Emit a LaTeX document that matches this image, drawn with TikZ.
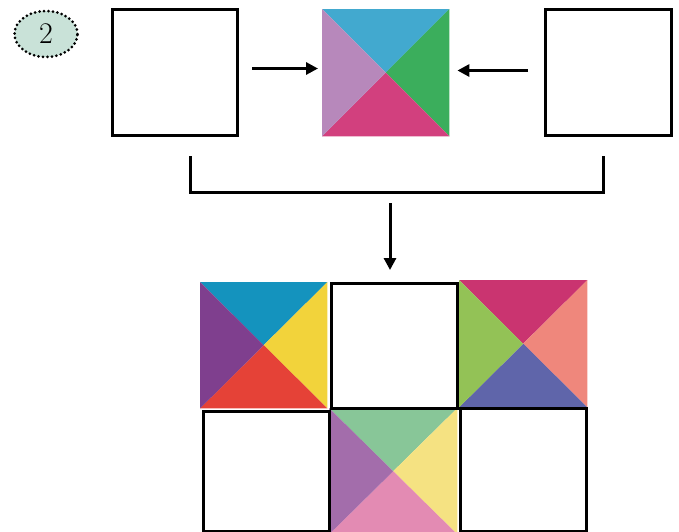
\documentclass[tikz,border=0pt]{standalone}
\usepackage{fontspec}
\usetikzlibrary{shapes.geometric,arrows.meta}
\definecolor{badge}{HTML}{C9E2D8}
\definecolor{mT}{HTML}{42A9CF}
\definecolor{mR}{HTML}{3BAE5C}
\definecolor{mB}{HTML}{D2407E}
\definecolor{mL}{HTML}{B788BB}
\definecolor{aT}{HTML}{1493BE}
\definecolor{aR}{HTML}{F2D33B}
\definecolor{aB}{HTML}{E54237}
\definecolor{aL}{HTML}{7F3F8E}
\definecolor{cT}{HTML}{CA3470}
\definecolor{cR}{HTML}{EF877C}
\definecolor{cB}{HTML}{5F65AA}
\definecolor{cL}{HTML}{93C256}
\definecolor{eT}{HTML}{88C698}
\definecolor{eR}{HTML}{F5E282}
\definecolor{eB}{HTML}{E38BB3}
\definecolor{eL}{HTML}{A36DAB}
\begin{document}
\begin{tikzpicture}[x=1pt,y=-1pt,
  wbox/.style={draw=black, line width=3pt, fill=white, inner sep=0pt, anchor=north west},
  cbox/.style={inner sep=0pt, anchor=north west},
  arr/.style={line width=3pt, -{Triangle[length=12pt,width=12pt]}},
  brk/.style={line width=3pt}]
\useasboundingbox (0,0) rectangle (679,531);
\clip (0,0) rectangle (679,531);
% badge
\node[ellipse, draw=black, line width=3pt, dash pattern=on 0pt off 4.5pt, line cap=round, fill=badge, minimum width=63pt, minimum height=46pt, inner sep=0pt, font=\fontsize{30}{30}\selectfont]
  (badge) at (46,34) {2};
% top row
\node[wbox, minimum width=125pt, minimum height=126pt] (L) at (111,8) {};
\node[wbox, minimum width=126pt, minimum height=126pt] (R) at (544,8) {};
\node[cbox, minimum width=127pt, minimum height=127pt] (M) at (322,9) {};
\fill[mT] (M.north west) -- (M.north east) -- (M.center) -- cycle;
\fill[mR] (M.north east) -- (M.south east) -- (M.center) -- cycle;
\fill[mB] (M.south east) -- (M.south west) -- (M.center) -- cycle;
\fill[mL] (M.south west) -- (M.north west) -- (M.center) -- cycle;
% arrows into the middle square
\coordinate (a1) at ([xshift=13pt,yshift=4pt]L.east);
\draw[arr, shorten >=4pt] (a1) -- (a1 -| M.west);
\coordinate (a2) at ([xshift=-16pt,yshift=2pt]R.west);
\draw[arr, shorten >=8pt] (a2) -- (a2 -| M.east);
% bracket
\coordinate (b1) at (190,156);
\coordinate (b2) at (190,192);
\coordinate (b3) at (603,192);
\coordinate (b4) at (603,156);
\draw[brk] (b1) -- (b2) -- (b3) -- (b4);
% bottom grid
\node[cbox, minimum width=127pt, minimum height=126pt] (A) at (200,282) {};
\fill[aT] (A.north west) -- (A.north east) -- (A.center) -- cycle;
\fill[aR] (A.north east) -- (A.south east) -- (A.center) -- cycle;
\fill[aB] (A.south east) -- (A.south west) -- (A.center) -- cycle;
\fill[aL] (A.south west) -- (A.north west) -- (A.center) -- cycle;
\node[cbox, minimum width=128pt, minimum height=127pt] (C) at (459,280) {};
\fill[cT] (C.north west) -- (C.north east) -- (C.center) -- cycle;
\fill[cR] (C.north east) -- (C.south east) -- (C.center) -- cycle;
\fill[cB] (C.south east) -- (C.south west) -- (C.center) -- cycle;
\fill[cL] (C.south west) -- (C.north west) -- (C.center) -- cycle;
\node[cbox, minimum width=128pt, minimum height=126pt] (E) at (329,408) {};
\fill[eT] (E.north west) -- (E.north east) -- (E.center) -- cycle;
\fill[eR] (E.north east) -- (E.south east) -- (E.center) -- cycle;
\fill[eB] (E.south east) -- (E.south west) -- (E.center) -- cycle;
\fill[eL] (E.south west) -- (E.north west) -- (E.center) -- cycle;
\node[wbox, minimum width=126pt, minimum height=125pt] (B) at (330,282) {};
\node[wbox, minimum width=126pt, minimum height=120pt] (D) at (202,410) {};
\node[wbox, minimum width=126pt, minimum height=123pt] (F) at (459,407) {};
% down arrow
\coordinate (d1) at (390,203);
\draw[arr, shorten >=12pt] (d1) -- (d1 |- B.north);
\end{tikzpicture}
\end{document}
